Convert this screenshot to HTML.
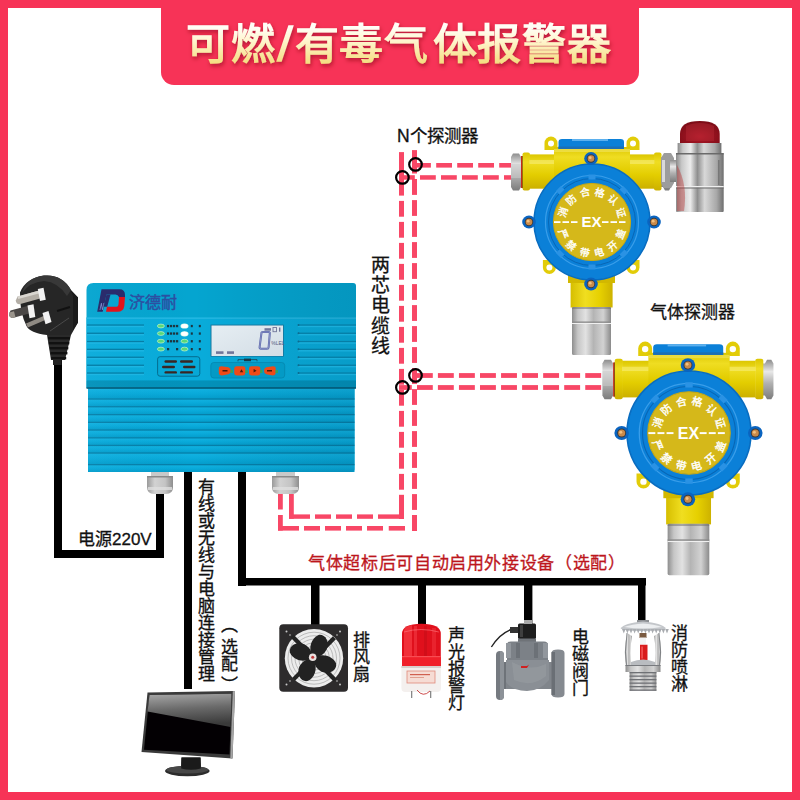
<!DOCTYPE html>
<html lang="zh-CN">
<head>
<meta charset="utf-8">
<style>
html,body{margin:0;padding:0;background:#fff;}
body{width:800px;height:800px;position:relative;overflow:hidden;font-family:"Liberation Sans",sans-serif;color:#111;}
.frame{position:absolute;left:0;top:0;width:784px;height:784px;border:8px solid #f73357;}
.tab{position:absolute;left:161px;top:0;width:478px;height:85px;background:#f73357;border-radius:0 0 13px 13px;}
svg{position:absolute;left:0;top:0;}
.t{position:absolute;font-size:17px;line-height:17px;white-space:nowrap;-webkit-text-stroke:0.3px currentColor;}
.v{writing-mode:vertical-rl;}
</style>
</head>
<body>
<div class="frame"></div>
<div class="tab"></div>
<svg width="800" height="800" viewBox="0 0 800 800">
<defs>
 <linearGradient id="siren2" x1="0" y1="0" x2="1" y2="0">
  <stop offset="0" stop-color="#8a8a8a"/><stop offset="0.12" stop-color="#c8c8c8"/><stop offset="0.3" stop-color="#ececec"/><stop offset="0.45" stop-color="#8f8f8f"/><stop offset="0.6" stop-color="#d8d8d8"/><stop offset="0.85" stop-color="#a8a8a8"/><stop offset="1" stop-color="#6e6e6e"/>
 </linearGradient>
 <linearGradient id="shadeH" x1="0" y1="0" x2="1" y2="0">
  <stop offset="0" stop-color="#ffffff" stop-opacity="0.03"/><stop offset="0.4" stop-color="#000000" stop-opacity="0"/><stop offset="1" stop-color="#002a45" stop-opacity="0.12"/>
 </linearGradient>
 <linearGradient id="gloss" x1="0" y1="0" x2="0.15" y2="1">
  <stop offset="0" stop-color="#a8a8a8"/><stop offset="0.5" stop-color="#6a6a6a"/><stop offset="1" stop-color="#3a3a3a"/>
 </linearGradient>
 <linearGradient id="rib" x1="0" y1="0" x2="0" y2="1">
  <stop offset="0" stop-color="#12b3e2"/><stop offset="0.5" stop-color="#09aada"/><stop offset="1" stop-color="#049ccb"/>
 </linearGradient>
 <linearGradient id="lcd" x1="0" y1="0" x2="1" y2="1">
  <stop offset="0" stop-color="#e6eef3"/><stop offset="1" stop-color="#d3dde5"/>
 </linearGradient>

 <linearGradient id="blueUp" x1="0" y1="0" x2="0" y2="1">
  <stop offset="0" stop-color="#16b3dd"/><stop offset="1" stop-color="#1aa9d3"/>
 </linearGradient>
 <linearGradient id="blueLow" x1="0" y1="0" x2="0" y2="1">
  <stop offset="0" stop-color="#22a9d3"/><stop offset="1" stop-color="#1f9fca"/>
 </linearGradient>
 <linearGradient id="metalH" x1="0" y1="0" x2="1" y2="0">
  <stop offset="0" stop-color="#8e8e8e"/><stop offset="0.15" stop-color="#c6c6c6"/><stop offset="0.35" stop-color="#e2e2e2"/><stop offset="0.55" stop-color="#b4b4b4"/><stop offset="0.8" stop-color="#d2d2d2"/><stop offset="1" stop-color="#8a8a8a"/>
 </linearGradient>
 <linearGradient id="metalV" x1="0" y1="0" x2="0" y2="1">
  <stop offset="0" stop-color="#8d8d8d"/><stop offset="0.3" stop-color="#e8e8e8"/><stop offset="0.6" stop-color="#b0b0b0"/><stop offset="1" stop-color="#7c7c7c"/>
 </linearGradient>
 <linearGradient id="glandG" x1="0" y1="0" x2="1" y2="0">
  <stop offset="0" stop-color="#9a9a9a"/><stop offset="0.3" stop-color="#d2d2d2"/><stop offset="0.7" stop-color="#c4c4c4"/><stop offset="1" stop-color="#8e8e8e"/>
 </linearGradient>
 <linearGradient id="yellowV" x1="0" y1="0" x2="0" y2="1">
  <stop offset="0" stop-color="#dcc600"/><stop offset="0.25" stop-color="#efdd22"/><stop offset="0.6" stop-color="#e3cd00"/><stop offset="1" stop-color="#ccb000"/>
 </linearGradient>
 <linearGradient id="yellowH" x1="0" y1="0" x2="1" y2="0">
  <stop offset="0" stop-color="#d6be00"/><stop offset="0.35" stop-color="#f0de20"/><stop offset="0.7" stop-color="#e6d000"/><stop offset="1" stop-color="#cdb200"/>
 </linearGradient>
 <radialGradient id="redDome" cx="0.5" cy="0.7" r="0.7">
  <stop offset="0" stop-color="#b01828"/><stop offset="1" stop-color="#7a0c16"/>
 </radialGradient>
 <linearGradient id="screen" x1="0" y1="0" x2="0.25" y2="1">
  <stop offset="0" stop-color="#9a9a9a"/><stop offset="0.33" stop-color="#505050"/><stop offset="0.36" stop-color="#0a0406"/><stop offset="1" stop-color="#000"/>
 </linearGradient>
</defs>
<!-- black wires -->
<g fill="#000">
 <rect x="54" y="358" width="8" height="200"/>
 <rect x="54" y="550" width="110" height="8"/>
 <rect x="156" y="490" width="8" height="68"/>
 <rect x="184" y="470" width="8" height="219"/>
 <rect x="238" y="470" width="8" height="116"/>
 <rect x="238" y="578" width="408" height="7.5"/>
 <rect x="311" y="580" width="8.5" height="46"/>
 <rect x="418" y="580" width="8" height="46"/>
 <rect x="524" y="580" width="8.4" height="46"/>
 <rect x="638" y="580" width="7.5" height="42"/>
</g>
<!-- red dashed cable -->
<!-- DASH --><g fill="#f84766">
<rect x="399.00" y="152.10" width="5.00" height="43.50"/>
<rect x="399.00" y="200.90" width="5.00" height="15.80"/>
<rect x="399.00" y="221.90" width="5.00" height="15.80"/>
<rect x="399.00" y="242.90" width="5.00" height="15.80"/>
<rect x="399.00" y="263.90" width="5.00" height="15.80"/>
<rect x="399.00" y="284.90" width="5.00" height="15.80"/>
<rect x="399.00" y="305.90" width="5.00" height="15.80"/>
<rect x="399.00" y="326.90" width="5.00" height="15.80"/>
<rect x="399.00" y="347.90" width="5.00" height="15.80"/>
<rect x="399.00" y="368.90" width="5.00" height="15.80"/>
<rect x="399.00" y="389.90" width="5.00" height="15.80"/>
<rect x="399.00" y="410.90" width="5.00" height="15.80"/>
<rect x="399.00" y="431.90" width="5.00" height="15.80"/>
<rect x="399.00" y="452.90" width="5.00" height="15.80"/>
<rect x="399.00" y="473.90" width="5.00" height="15.80"/>
<rect x="399.00" y="494.90" width="5.00" height="0.10"/>
<rect x="399.00" y="494.90" width="5.00" height="24.10"/>
<rect x="412.00" y="150.10" width="5.00" height="23.40"/>
<rect x="412.00" y="179.00" width="5.00" height="15.90"/>
<rect x="412.00" y="200.10" width="5.00" height="15.80"/>
<rect x="412.00" y="221.10" width="5.00" height="15.80"/>
<rect x="412.00" y="242.10" width="5.00" height="15.80"/>
<rect x="412.00" y="263.10" width="5.00" height="15.80"/>
<rect x="412.00" y="284.10" width="5.00" height="15.80"/>
<rect x="412.00" y="305.10" width="5.00" height="15.80"/>
<rect x="412.00" y="326.10" width="5.00" height="15.80"/>
<rect x="412.00" y="347.10" width="5.00" height="15.80"/>
<rect x="412.00" y="368.10" width="5.00" height="15.80"/>
<rect x="412.00" y="389.10" width="5.00" height="15.80"/>
<rect x="412.00" y="410.10" width="5.00" height="15.80"/>
<rect x="412.00" y="431.10" width="5.00" height="15.80"/>
<rect x="412.00" y="452.10" width="5.00" height="15.80"/>
<rect x="412.00" y="473.10" width="5.00" height="15.80"/>
<rect x="412.00" y="494.10" width="5.00" height="15.80"/>
<rect x="412.00" y="515.10" width="5.00" height="15.90"/>
<rect x="412.00" y="163.00" width="18.90" height="4.60"/>
<rect x="436.20" y="163.00" width="15.80" height="4.60"/>
<rect x="457.20" y="163.00" width="15.80" height="4.60"/>
<rect x="478.20" y="163.00" width="15.80" height="4.60"/>
<rect x="499.20" y="163.00" width="11.80" height="4.60"/>
<rect x="399.00" y="175.20" width="15.80" height="4.50"/>
<rect x="420.00" y="175.20" width="15.80" height="4.50"/>
<rect x="441.00" y="175.20" width="15.80" height="4.50"/>
<rect x="462.00" y="175.20" width="15.80" height="4.50"/>
<rect x="483.00" y="175.20" width="15.80" height="4.50"/>
<rect x="504.00" y="175.20" width="7.00" height="4.50"/>
<rect x="412.00" y="373.10" width="20.80" height="4.80"/>
<rect x="437.90" y="373.10" width="15.90" height="4.80"/>
<rect x="458.95" y="373.10" width="15.90" height="4.80"/>
<rect x="480.00" y="373.10" width="15.90" height="4.80"/>
<rect x="501.05" y="373.10" width="15.90" height="4.80"/>
<rect x="522.10" y="373.10" width="15.90" height="4.80"/>
<rect x="543.15" y="373.10" width="15.90" height="4.80"/>
<rect x="564.20" y="373.10" width="15.90" height="4.80"/>
<rect x="585.25" y="373.10" width="15.90" height="4.80"/>
<rect x="399.00" y="385.10" width="12.80" height="4.80"/>
<rect x="417.00" y="385.10" width="15.80" height="4.80"/>
<rect x="437.90" y="385.10" width="15.90" height="4.80"/>
<rect x="458.95" y="385.10" width="15.90" height="4.80"/>
<rect x="480.00" y="385.10" width="15.90" height="4.80"/>
<rect x="501.05" y="385.10" width="15.90" height="4.80"/>
<rect x="522.10" y="385.10" width="15.90" height="4.80"/>
<rect x="543.15" y="385.10" width="15.90" height="4.80"/>
<rect x="564.20" y="385.10" width="15.90" height="4.80"/>
<rect x="585.25" y="385.10" width="15.90" height="4.80"/>
<rect x="289.00" y="514.40" width="21.00" height="4.40"/>
<rect x="315.00" y="514.40" width="16.00" height="4.40"/>
<rect x="336.00" y="514.40" width="16.00" height="4.40"/>
<rect x="357.00" y="514.40" width="16.00" height="4.40"/>
<rect x="378.00" y="514.40" width="26.00" height="4.40"/>
<rect x="289.00" y="494.00" width="4.80" height="24.80"/>
<rect x="278.00" y="526.00" width="21.00" height="4.60"/>
<rect x="304.00" y="526.00" width="16.00" height="4.60"/>
<rect x="325.00" y="526.00" width="16.00" height="4.60"/>
<rect x="346.00" y="526.00" width="16.00" height="4.60"/>
<rect x="367.00" y="526.00" width="16.00" height="4.60"/>
<rect x="388.75" y="526.00" width="16.25" height="4.60"/>
<rect x="412.00" y="515.00" width="5.00" height="15.60"/>
<rect x="278.00" y="494.00" width="4.80" height="15.50"/>
<rect x="278.00" y="515.00" width="4.80" height="15.60"/>
</g>
<!-- /DASH -->
<g fill="none" stroke="#000" stroke-width="2.2">
 <circle cx="415.5" cy="164.4" r="6.3"/>
 <circle cx="402.4" cy="177.4" r="6.3"/>
 <circle cx="415.5" cy="375.4" r="6.3"/>
 <circle cx="402.4" cy="387.4" r="6.3"/>
</g>

<defs>
 <linearGradient id="titleG" gradientUnits="userSpaceOnUse" x1="0" y1="26" x2="0" y2="64">
  <stop offset="0" stop-color="#fffef6"/><stop offset="0.35" stop-color="#fff6d0"/><stop offset="1" stop-color="#f4dc7e"/>
 </linearGradient>
 <filter id="tshadow" x="-10%" y="-30%" width="120%" height="160%">
  <feDropShadow dx="1" dy="2.5" stdDeviation="2" flood-color="#7a0018" flood-opacity="0.55"/>
 </filter>
</defs>
<text font-family="Liberation Sans, sans-serif" font-size="44" font-weight="bold" fill="url(#titleG)" filter="url(#tshadow)" y="59" transform="translate(0 61) scale(1 0.955) translate(0 -61)">
<tspan x="186">可</tspan><tspan x="231">燃</tspan><tspan x="295">有</tspan><tspan x="339">毒</tspan><tspan x="384">气</tspan><tspan x="433">体</tspan><tspan x="477">报</tspan><tspan x="522">警</tspan><tspan x="567">器</tspan>
</text>
<polygon points="288.4,25.3 293.8,25.3 281.6,61.8 276.2,61.8" fill="url(#titleG)" filter="url(#tshadow)"/>

<!-- CTRL --><!-- controller -->
<g id="ctrl">
<rect x="151" y="470" width="18" height="6" fill="#c9c9c9"/>
<path d="M147 476 H173 V487 Q173 494 166 494 H154 Q147 494 147 487 Z" fill="url(#glandG)"/>
<rect x="147" y="476" width="26" height="1.5" fill="#8a8a8a"/>
<rect x="148" y="487" width="24" height="3" fill="#dedede" opacity="0.8"/>
<rect x="276" y="470" width="19" height="6" fill="#c9c9c9"/>
<path d="M272 476 H299 V487 Q299 494 292 494 H279 Q272 494 272 487 Z" fill="url(#glandG)"/>
<rect x="272" y="476" width="27" height="1.5" fill="#8a8a8a"/>
<rect x="273" y="487" width="25" height="3" fill="#dedede" opacity="0.8"/>
<path d="M88 388 H354.5 V469 Q354.5 472 351.5 472 H91 Q88 472 88 469 Z" fill="#08a9d8"/>
<rect x="88" y="388" width="266.5" height="11" fill="url(#rib)"/>
<rect x="88" y="399" width="266.5" height="7.699999999999989" fill="url(#rib)"/>
<rect x="88" y="398.4" width="266.5" height="1.3" fill="#0680aa"/>
<rect x="88" y="406.7" width="266.5" height="7.900000000000034" fill="url(#rib)"/>
<rect x="88" y="406.09999999999997" width="266.5" height="1.3" fill="#0680aa"/>
<rect x="88" y="414.6" width="266.5" height="7.699999999999989" fill="url(#rib)"/>
<rect x="88" y="414.0" width="266.5" height="1.3" fill="#0680aa"/>
<rect x="88" y="422.3" width="266.5" height="7.699999999999989" fill="url(#rib)"/>
<rect x="88" y="421.7" width="266.5" height="1.3" fill="#0680aa"/>
<rect x="88" y="430" width="266.5" height="7.800000000000011" fill="url(#rib)"/>
<rect x="88" y="429.4" width="266.5" height="1.3" fill="#0680aa"/>
<rect x="88" y="437.8" width="266.5" height="7.599999999999966" fill="url(#rib)"/>
<rect x="88" y="437.2" width="266.5" height="1.3" fill="#0680aa"/>
<rect x="88" y="445.4" width="266.5" height="7.600000000000023" fill="url(#rib)"/>
<rect x="88" y="444.79999999999995" width="266.5" height="1.3" fill="#0680aa"/>
<rect x="88" y="453" width="266.5" height="11.600000000000023" fill="url(#rib)"/>
<rect x="88" y="452.4" width="266.5" height="1.3" fill="#0680aa"/>
<rect x="88" y="464.6" width="266.5" height="7.399999999999977" fill="url(#rib)"/>
<rect x="88" y="464.0" width="266.5" height="1.3" fill="#0680aa"/>
<path d="M88 388 H354.5 V469 Q354.5 472 351.5 472 H91 Q88 472 88 469 Z" fill="url(#shadeH)"/>
<path d="M86.5 290 Q86.5 283 93.5 283 H353 Q356 283 356 286 V388 H86.5 Z" fill="#05a5d0"/>
<rect x="86.5" y="317.5" width="269.5" height="63" fill="#09acdb"/>
<rect x="86.5" y="317.5" width="269.5" height="1.3" fill="#30bde6" opacity="0.8"/>
<rect x="86.5" y="380.5" width="269.5" height="7" fill="#0392bb"/>
<rect x="86.5" y="387.2" width="269.5" height="1.6" fill="#035a78"/>
<path d="M86.5 290 Q86.5 283 93.5 283 H353 Q356 283 356 286 V388 H86.5 Z" fill="url(#shadeH)"/>
<rect x="87" y="324.4" width="57" height="1.3" fill="#067ea6"/>
<rect x="87" y="325.8" width="57" height="1.4" fill="#30c2ee" opacity="0.45"/>
<rect x="298" y="324.4" width="58" height="1.3" fill="#067ea6"/>
<rect x="298" y="325.8" width="58" height="1.4" fill="#30c2ee" opacity="0.45"/>
<circle cx="298.5" cy="325" r="1" fill="#0f6a8e"/>
<rect x="87" y="332.59999999999997" width="57" height="1.3" fill="#067ea6"/>
<rect x="87" y="334.0" width="57" height="1.4" fill="#30c2ee" opacity="0.45"/>
<rect x="298" y="332.59999999999997" width="58" height="1.3" fill="#067ea6"/>
<rect x="298" y="334.0" width="58" height="1.4" fill="#30c2ee" opacity="0.45"/>
<circle cx="298.5" cy="333.2" r="1" fill="#0f6a8e"/>
<rect x="87" y="340.9" width="57" height="1.3" fill="#067ea6"/>
<rect x="87" y="342.3" width="57" height="1.4" fill="#30c2ee" opacity="0.45"/>
<rect x="298" y="340.9" width="58" height="1.3" fill="#067ea6"/>
<rect x="298" y="342.3" width="58" height="1.4" fill="#30c2ee" opacity="0.45"/>
<circle cx="298.5" cy="341.5" r="1" fill="#0f6a8e"/>
<rect x="87" y="348.7" width="57" height="1.3" fill="#067ea6"/>
<rect x="87" y="350.1" width="57" height="1.4" fill="#30c2ee" opacity="0.45"/>
<rect x="298" y="348.7" width="58" height="1.3" fill="#067ea6"/>
<rect x="298" y="350.1" width="58" height="1.4" fill="#30c2ee" opacity="0.45"/>
<circle cx="298.5" cy="349.3" r="1" fill="#0f6a8e"/>
<rect x="87" y="356.59999999999997" width="57" height="1.3" fill="#067ea6"/>
<rect x="87" y="358.0" width="57" height="1.4" fill="#30c2ee" opacity="0.45"/>
<rect x="298" y="356.59999999999997" width="58" height="1.3" fill="#067ea6"/>
<rect x="298" y="358.0" width="58" height="1.4" fill="#30c2ee" opacity="0.45"/>
<circle cx="298.5" cy="357.2" r="1" fill="#0f6a8e"/>
<rect x="87" y="364.59999999999997" width="57" height="1.3" fill="#067ea6"/>
<rect x="87" y="366.0" width="57" height="1.4" fill="#30c2ee" opacity="0.45"/>
<rect x="298" y="364.59999999999997" width="58" height="1.3" fill="#067ea6"/>
<rect x="298" y="366.0" width="58" height="1.4" fill="#30c2ee" opacity="0.45"/>
<circle cx="298.5" cy="365.2" r="1" fill="#0f6a8e"/>
<rect x="87" y="372.4" width="57" height="1.3" fill="#067ea6"/>
<rect x="87" y="373.8" width="57" height="1.4" fill="#30c2ee" opacity="0.45"/>
<rect x="298" y="372.4" width="58" height="1.3" fill="#067ea6"/>
<rect x="298" y="373.8" width="58" height="1.4" fill="#30c2ee" opacity="0.45"/>
<circle cx="298.5" cy="373" r="1" fill="#0f6a8e"/>
<path d="M101.5 289.3 H119.5 Q125 289.3 125 295 V297 H119 Q118 294.5 115.5 294.5 H106.5 L102.7 311.8 H97.2 Z" fill="#2a2c6c"/>
<path d="M119 297 H125 L124.3 306 Q123.5 311.8 117.5 311.8 H106 L107 306.8 H116.5 Q118.2 306.8 118.5 304.5 Z" fill="#e3131b"/>
<path d="M106.5 294.5 H110.5 L107.2 306.8 H103.7 Z" fill="#2a2c6c"/>
<path d="M99.5 310 L101 303 H101.8 L102.6 308 L103.5 303 H104.2 L102.8 310 H102 L101.3 305.5 L100.4 310 Z" fill="#7a86c8"/>
<text x="128.5" y="307.6" font-family="Liberation Sans, sans-serif" font-size="16" fill="#2c4fa2" stroke="#2c4fa2" stroke-width="0.45">济德耐</text>
<ellipse cx="160.9" cy="326" rx="3.5" ry="1.9" fill="#58d87a" stroke="#c5f3c8" stroke-width="0.7"/>
<ellipse cx="160.9" cy="333.5" rx="3.5" ry="1.9" fill="#58d87a" stroke="#c5f3c8" stroke-width="0.7"/>
<ellipse cx="160.9" cy="341.2" rx="3.5" ry="1.9" fill="#58d87a" stroke="#c5f3c8" stroke-width="0.7"/>
<ellipse cx="160.9" cy="349.1" rx="3.5" ry="1.9" fill="#58d87a" stroke="#c5f3c8" stroke-width="0.7"/>
<ellipse cx="184.5" cy="341.2" rx="3.5" ry="1.9" fill="#58d87a" stroke="#c5f3c8" stroke-width="0.7"/>
<ellipse cx="184.5" cy="349.1" rx="3.5" ry="1.9" fill="#58d87a" stroke="#c5f3c8" stroke-width="0.7"/>
<ellipse cx="184.5" cy="326" rx="4" ry="2.6" fill="#dffbe8"/>
<ellipse cx="184.5" cy="326" rx="3.2" ry="2" fill="#ffffff"/>
<ellipse cx="184.5" cy="333.8" rx="4" ry="2.6" fill="#dffbe8"/>
<ellipse cx="184.5" cy="333.8" rx="3.2" ry="2" fill="#ffffff"/>
<rect x="167" y="324.9" width="2.2" height="2.3" fill="#1d3540"/>
<rect x="170" y="324.9" width="2.2" height="2.3" fill="#1d3540"/>
<rect x="173" y="324.9" width="2.2" height="2.3" fill="#1d3540"/>
<rect x="176" y="324.9" width="2.2" height="2.3" fill="#1d3540"/>
<rect x="167" y="332.4" width="2.2" height="2.3" fill="#1d3540"/>
<rect x="170" y="332.4" width="2.2" height="2.3" fill="#1d3540"/>
<rect x="173" y="332.4" width="2.2" height="2.3" fill="#1d3540"/>
<rect x="176" y="332.4" width="2.2" height="2.3" fill="#1d3540"/>
<rect x="167" y="340.09999999999997" width="2.2" height="2.3" fill="#1d3540"/>
<rect x="170" y="340.09999999999997" width="2.2" height="2.3" fill="#1d3540"/>
<rect x="173" y="340.09999999999997" width="2.2" height="2.3" fill="#1d3540"/>
<rect x="176" y="340.09999999999997" width="2.2" height="2.3" fill="#1d3540"/>
<rect x="167" y="348" width="2.2" height="2.3" fill="#1d3540"/><rect x="176" y="348" width="2.2" height="2.3" fill="#1d3540"/>
<rect x="190.8" y="324.9" width="2" height="2.3" fill="#1d3540"/><rect x="198.8" y="324.9" width="2" height="2.3" fill="#1d3540"/>
<rect x="190.8" y="332.4" width="2" height="2.3" fill="#1d3540"/><rect x="198.8" y="332.4" width="2" height="2.3" fill="#1d3540"/>
<rect x="190.8" y="340.09999999999997" width="2" height="2.3" fill="#1d3540"/><rect x="198.8" y="340.09999999999997" width="2" height="2.3" fill="#1d3540"/>
<rect x="190.8" y="348.0" width="2" height="2.3" fill="#1d3540"/><rect x="198.8" y="348.0" width="2" height="2.3" fill="#1d3540"/>
<rect x="157.6" y="356.7" width="42.2" height="19.5" rx="2.5" fill="#07a8d6" stroke="#046688" stroke-width="0.9"/>
<rect x="164.5" y="360.3" width="12.5" height="2.4" rx="1.2" fill="#3b2622"/>
<rect x="180" y="360.3" width="13" height="2.4" rx="1.2" fill="#3b2622"/>
<rect x="162" y="365.8" width="13" height="2.4" rx="1.2" fill="#3b2622"/>
<rect x="183" y="365.8" width="12.5" height="2.4" rx="1.2" fill="#3b2622"/>
<rect x="164.5" y="371.2" width="12.5" height="2.4" rx="1.2" fill="#3b2622"/>
<rect x="180" y="371.2" width="13" height="2.4" rx="1.2" fill="#3b2622"/>
<rect x="210.6" y="324.6" width="73.2" height="32" fill="#17739a"/>
<rect x="211.5" y="325.5" width="71.5" height="30.5" fill="url(#lcd)"/>
<path d="M261.5 332.6 Q262 332 263 332 H268.5 Q270 332 269.8 333.5 L268.6 347.5 Q268.5 348.8 267 348.8 H261 Q259.5 348.8 259.6 347.3 Z" fill="none" stroke="#5762a8" stroke-width="2"/>
<path d="M261.5 332.6 Q262 332 263 332 H268.5 Q270 332 269.8 333.5 L268.6 347.5 Q268.5 348.8 267 348.8 H261 Q259.5 348.8 259.6 347.3 Z" fill="none" stroke="#aab4d8" stroke-width="0.6"/>
<text x="271.3" y="344.5" font-family="Liberation Sans, sans-serif" font-size="5" fill="#555a80">%LEL</text>
<g fill="#70769a"><rect x="264.5" y="328.2" width="6.5" height="2.5"/><rect x="273" y="327.5" width="3.5" height="4.2" fill="none" stroke="#70769a" stroke-width="0.9"/><rect x="279" y="327.5" width="1.4" height="4.2"/><rect x="216" y="351.3" width="7.5" height="2.6"/><rect x="227" y="351.3" width="7" height="2.6"/></g>
<path d="M238 361.3 V359.6 H257 V361.3" fill="none" stroke="#1a3a48" stroke-width="0.7"/>
<rect x="244" y="358.6" width="7" height="2.6" fill="#1a3a48"/>
<rect x="210.8" y="362.5" width="73.9" height="15.5" rx="3" fill="#049ac5" stroke="#0486ae" stroke-width="0.8"/>
<g fill="#ef4a18">
<path d="M218.8 368.5 Q218.8 366.2 221.5 366.2 L228.5 367.3 Q230.8 368 230.8 370.7 Q230.8 373.5 228.5 374.2 L222 375.4 Q218.8 375.4 218.8 372.5 Z"/>
<rect x="234.2" y="366.2" width="11.2" height="9.2" rx="2.4"/>
<rect x="249" y="366.2" width="11.3" height="9.2" rx="2.4"/>
<path d="M264 370.7 Q264 368 266.3 367.3 L273 366.2 Q275.7 366.2 275.7 368.5 V372.5 Q275.7 375.4 272.5 375.4 L266.3 374.2 Q264 373.5 264 370.7 Z"/>
</g>
<g fill="#4a1a0c"><path d="M239.8 372.3 L241.5 369.2 L243.2 372.3 Z"/><path d="M253.6 369 L256.6 370.7 L253.6 372.4 Z"/><rect x="222.5" y="370" width="5" height="1.5"/><rect x="267" y="370" width="5" height="1.5"/></g>
<g fill="#3aa84a" opacity="0.8"><rect x="230.5" y="370" width="2.5" height="3"/><rect x="245.2" y="370" width="2.5" height="3"/><rect x="260" y="370" width="2.5" height="3"/><rect x="275.5" y="370" width="2.5" height="3"/></g>
</g>
<!-- /CTRL -->

<!-- plug -->
<g id="plug">
 <!-- head -->
 <path d="M44 275.6 Q62 274 71 290 L78 297.5 V322.5 L71 335 H47 Q30 333 26.5 326 Q19.5 312 20 292.5 Q26 278 44 275.6 Z" fill="#262626"/>
 <path d="M44 275.6 Q62 274 71 290 L67 296 Q58 282 44 281 Q30 282 22 293 Q26 278 44 275.6 Z" fill="#383838"/>
 <path d="M70.5 290 L78 297.5 V322.5 L73 330 V296 Z" fill="#1b1b1b"/>
 <path d="M57 311 L70 307" stroke="#111" stroke-width="2"/>
 <path d="M50 331 L69 318" stroke="#4a4a4a" stroke-width="1"/>
 <!-- prongs -->
 <path d="M17.5 296.5 L40 290.3 L42 298 L19.5 304.2 Q16 304 15.8 300.5 Z" fill="#b3aea6"/>
 <path d="M17.5 296.5 L40 290.3 L40.8 293 L18.2 299 Z" fill="#d9d6d0"/>
 <path d="M10.5 310.5 L31 305 L33 312.5 L12.5 318 Q9 317.5 9 314 Z" fill="#4a4746"/>
 <path d="M9.2 312.5 L14 311.2 L15.5 317.3 L12.5 318 Q9 317.5 9 314 Z" fill="#9a948c"/>
 <path d="M26 323.5 L46.5 314.8 L48.2 318.8 L27.8 327.5 Z" fill="#8f8a83"/>
 <!-- insulators -->
 <path d="M37.8 289 L43.5 287.7 L45.8 299.8 L40 301 Z" fill="#f2f2f2"/>
 <path d="M27.5 305.5 L33.5 304.2 L35.3 317 L29.5 318.3 Z" fill="#f2f2f2"/>
 <path d="M42.5 313 L48.5 311 L51.5 322 L45.5 324.3 Z" fill="#f2f2f2"/>
 <!-- strain relief -->
 <path d="M47 335 H71 L65 360 H51 Z" fill="#2a2a2a"/>
 <g fill="#111"><rect x="48" y="337" width="22" height="2.4"/><rect x="48.8" y="342" width="20.5" height="2.4"/><rect x="49.8" y="347" width="18.5" height="2.4"/><rect x="50.6" y="352" width="16.8" height="2.4"/><rect x="51.2" y="357" width="15" height="2.4"/></g>
 <rect x="53" y="359" width="8.6" height="6" fill="#222"/>
</g>
<!-- monitor -->
<g id="monitor">
 <path d="M147.5 692.5 L235 691 L232.5 758.5 L141.5 752 Z" fill="#3a3a3a"/>
 <path d="M232.8 691.3 L235 691 L232.5 758.5 L230.3 758 Z" fill="#a5a5a5"/>
 <path d="M149.5 695 L231.5 693.8 L229.5 754.5 L144 749.8 Z" fill="#030003"/>
 <path d="M149.5 695 L231.5 693.8 L230.6 727 L147.5 711.5 Z" fill="url(#gloss)"/>
 <path d="M181.5 757.5 H200.5 L201 770 H181 Z" fill="#1d1d1d"/>
 <ellipse cx="187.3" cy="771" rx="22.3" ry="5.2" fill="#2c2c2c"/>
 <ellipse cx="187.3" cy="769.8" rx="21" ry="3.8" fill="#474747"/>
 <path d="M181.5 757.5 H200.5 L200.8 768.5 Q191 771 181.2 768.5 Z" fill="#1a1a1a"/>
</g>
<!-- DET --><g id="det1" transform="translate(592 222)">
<path d="M-81 -65 L-79 -68.5 H-73 L-71 -65 V-35 L-73 -31.5 H-79 L-81 -35 Z" fill="url(#metalV)"/>
<rect x="-81" y="-58" width="10" height="14" fill="#c8c8c8" opacity="0.6"/>
<rect x="-71" y="-66" width="2" height="32" fill="#c42a1a"/><rect x="-69.8" y="-66" width="0.8" height="32" fill="#301010"/>
<path d="M69 -65 H71 L73 -68.5 H77 L79 -65 V-35 L77 -31.5 H73 L71 -35 H69 Z" fill="url(#metalV)"/>
<rect x="-62.6" y="-67.6" width="125" height="34.3" fill="url(#yellowV)"/>
<rect x="-69.5" y="-69.5" width="7.5" height="38" rx="2" fill="url(#yellowV)"/>
<rect x="62" y="-69.5" width="7.5" height="38" rx="2" fill="url(#yellowV)"/>
<rect x="-62.6" y="-62" width="125" height="4" fill="#f8ee80" opacity="0.55"/>
<path d="M-47.5 -72 V-79 A6.5 6.5 0 0 1 -34.5 -79 V-72 Z" fill="#e2cc08"/>
<circle cx="-41" cy="-78.5" r="3" fill="#fff"/>
<path d="M34.5 -72 V-79 A6.5 6.5 0 0 1 47.5 -79 V-72 Z" fill="#e2cc08"/>
<circle cx="41" cy="-78.5" r="3" fill="#fff"/>
<rect x="-38" y="-75" width="76" height="40" fill="url(#yellowV)"/>
<path d="M-33.5 -73 V-80 Q-33.5 -83 -30 -83 H28.5 Q32 -83 32 -80 V-73 Z" fill="#0b80d8"/>
<rect x="-33.5" y="-75.5" width="65.5" height="2.5" fill="#1c6fb5"/>
<rect x="-20" y="-83" width="36" height="2" fill="#5bb0ee"/>
<rect x="-38" y="-73" width="76" height="3" fill="#f2e660" opacity="0.6"/>
<path d="M-49.1 38 V45.5 A6.5 6.5 0 0 0 -36.1 45.5 V38 Z" fill="#e2cc08"/>
<circle cx="-42.6" cy="45.5" r="3" fill="#fff"/>
<path d="M34.5 38 V45.5 A6.5 6.5 0 0 0 47.5 45.5 V38 Z" fill="#e2cc08"/>
<circle cx="41" cy="45.5" r="3" fill="#fff"/>
<rect x="-21.4" y="56" width="42" height="29.5" fill="url(#yellowH)"/>
<rect x="-24" y="52" width="47" height="9" fill="#d2b800"/>
<rect x="-20" y="85" width="39" height="48" rx="1.5" fill="url(#metalH)"/>
<rect x="-20" y="99.5" width="39" height="1.3" fill="#8a8a8a"/>
<rect x="-20" y="101" width="39" height="1" fill="#f0f0f0"/>
<rect x="-20" y="85" width="39" height="2" fill="#6a6a6a" opacity="0.5"/>
<circle cx="0" cy="0" r="58" fill="#0b80d8"/>
<circle cx="0" cy="0" r="58" fill="none" stroke="#086cc0" stroke-width="1.5"/>
<circle cx="0" cy="0" r="46.5" fill="none" stroke="#3a9eea" stroke-width="1.2"/>
<circle cx="0" cy="0" r="43.5" fill="none" stroke="#0866b5" stroke-width="1"/>
<rect x="-3.5" y="-2.5" width="7" height="5" fill="#2a92e4" transform="translate(31.82 31.82) rotate(135)"/>
<rect x="-3.5" y="-2.5" width="7" height="5" fill="#2a92e4" transform="translate(-31.82 31.82) rotate(225)"/>
<rect x="-3.5" y="-2.5" width="7" height="5" fill="#2a92e4" transform="translate(-31.82 -31.82) rotate(315)"/>
<rect x="-3.5" y="-2.5" width="7" height="5" fill="#2a92e4" transform="translate(31.82 -31.82) rotate(405)"/>
<rect x="-3.5" y="-2.5" width="7" height="5" fill="#2a92e4" transform="translate(0.00 -45.00) rotate(0)"/>
<rect x="-3.5" y="-2.5" width="7" height="5" fill="#2a92e4" transform="translate(0.00 45.00) rotate(180)"/>
<circle cx="0" cy="0" r="38.6" fill="#d5b81a"/>
<circle cx="0" cy="0" r="38.6" fill="none" stroke="#c9a810" stroke-width="1"/>
<text x="0" y="0" transform="translate(-29.01 -9.43) rotate(-72)" font-size="10" fill="#fff" stroke="#fff" stroke-width="0.35" text-anchor="middle" dominant-baseline="central" font-family="Liberation Sans, sans-serif">消</text>
<text x="0" y="0" transform="translate(-20.80 -22.31) rotate(-43)" font-size="10" fill="#fff" stroke="#fff" stroke-width="0.35" text-anchor="middle" dominant-baseline="central" font-family="Liberation Sans, sans-serif">防</text>
<text x="0" y="0" transform="translate(-7.38 -29.59) rotate(-14)" font-size="10" fill="#fff" stroke="#fff" stroke-width="0.35" text-anchor="middle" dominant-baseline="central" font-family="Liberation Sans, sans-serif">合</text>
<text x="0" y="0" transform="translate(7.89 -29.46) rotate(15)" font-size="10" fill="#fff" stroke="#fff" stroke-width="0.35" text-anchor="middle" dominant-baseline="central" font-family="Liberation Sans, sans-serif">格</text>
<text x="0" y="0" transform="translate(21.19 -21.94) rotate(44)" font-size="10" fill="#fff" stroke="#fff" stroke-width="0.35" text-anchor="middle" dominant-baseline="central" font-family="Liberation Sans, sans-serif">认</text>
<text x="0" y="0" transform="translate(29.17 -8.92) rotate(73)" font-size="10" fill="#fff" stroke="#fff" stroke-width="0.35" text-anchor="middle" dominant-baseline="central" font-family="Liberation Sans, sans-serif">证</text>
<text x="0" y="0" transform="translate(-29.12 12.00) rotate(67.6)" font-size="10" fill="#fff" stroke="#fff" stroke-width="0.35" text-anchor="middle" dominant-baseline="central" font-family="Liberation Sans, sans-serif">严</text>
<text x="0" y="0" transform="translate(-20.50 23.92) rotate(40.599999999999994)" font-size="10" fill="#fff" stroke="#fff" stroke-width="0.35" text-anchor="middle" dominant-baseline="central" font-family="Liberation Sans, sans-serif">禁</text>
<text x="0" y="0" transform="translate(-7.41 30.62) rotate(13.599999999999994)" font-size="10" fill="#fff" stroke="#fff" stroke-width="0.35" text-anchor="middle" dominant-baseline="central" font-family="Liberation Sans, sans-serif">带</text>
<text x="0" y="0" transform="translate(7.30 30.64) rotate(-13.400000000000006)" font-size="10" fill="#fff" stroke="#fff" stroke-width="0.35" text-anchor="middle" dominant-baseline="central" font-family="Liberation Sans, sans-serif">电</text>
<text x="0" y="0" transform="translate(20.42 23.99) rotate(-40.400000000000006)" font-size="10" fill="#fff" stroke="#fff" stroke-width="0.35" text-anchor="middle" dominant-baseline="central" font-family="Liberation Sans, sans-serif">开</text>
<text x="0" y="0" transform="translate(29.08 12.11) rotate(-67.4)" font-size="10" fill="#fff" stroke="#fff" stroke-width="0.35" text-anchor="middle" dominant-baseline="central" font-family="Liberation Sans, sans-serif">盖</text>
<text x="-0.5" y="5.2" font-size="15" font-weight="bold" fill="#fff" text-anchor="middle" font-family="Liberation Sans, sans-serif">EX</text>
<rect x="-38" y="-0.8" width="6.5" height="1.8" fill="#fff"/>
<rect x="-29.5" y="-0.8" width="6.5" height="1.8" fill="#fff"/>
<rect x="-21" y="-0.8" width="6.5" height="1.8" fill="#fff"/>
<rect x="10" y="-0.8" width="6.5" height="1.8" fill="#fff"/>
<rect x="18.5" y="-0.8" width="6.5" height="1.8" fill="#fff"/>
<rect x="27" y="-0.8" width="6.5" height="1.8" fill="#fff"/>
<ellipse cx="-63" cy="0" rx="6.8" ry="6.5" fill="#0a64c0"/>
<circle cx="-63" cy="0" r="4.2" fill="#3a3a3a"/>
<circle cx="-63" cy="0" r="3.3" fill="#c98a4a"/>
<circle cx="-63.8" cy="-0.8" r="1.4" fill="#f0c080"/>
<ellipse cx="62" cy="0" rx="6.8" ry="6.5" fill="#0a64c0"/>
<circle cx="62" cy="0" r="4.2" fill="#3a3a3a"/>
<circle cx="62" cy="0" r="3.3" fill="#c98a4a"/>
<circle cx="61.2" cy="-0.8" r="1.4" fill="#f0c080"/>
<ellipse cx="-1" cy="-63.5" rx="6.8" ry="6.5" fill="#0a64c0"/>
<circle cx="-1" cy="-63.5" r="4.2" fill="#3a3a3a"/>
<circle cx="-1" cy="-63.5" r="3.3" fill="#c98a4a"/>
<circle cx="-1.8" cy="-64.3" r="1.4" fill="#f0c080"/>
<ellipse cx="-1" cy="62" rx="6.8" ry="6.5" fill="#0a64c0"/>
<circle cx="-1" cy="62" r="4.2" fill="#3a3a3a"/>
<circle cx="-1" cy="62" r="3.3" fill="#c98a4a"/>
<circle cx="-1.8" cy="61.2" r="1.4" fill="#f0c080"/>
</g>
<g id="det2" transform="translate(689 433) scale(1.069)">
<path d="M-81 -65 L-79 -68.5 H-73 L-71 -65 V-35 L-73 -31.5 H-79 L-81 -35 Z" fill="url(#metalV)"/>
<rect x="-81" y="-58" width="10" height="14" fill="#c8c8c8" opacity="0.6"/>
<rect x="-71" y="-66" width="2" height="32" fill="#c42a1a"/><rect x="-69.8" y="-66" width="0.8" height="32" fill="#301010"/>
<path d="M69 -65 H71 L73 -68.5 H77 L79 -65 V-35 L77 -31.5 H73 L71 -35 H69 Z" fill="url(#metalV)"/>
<rect x="-62.6" y="-67.6" width="125" height="34.3" fill="url(#yellowV)"/>
<rect x="-69.5" y="-69.5" width="7.5" height="38" rx="2" fill="url(#yellowV)"/>
<rect x="62" y="-69.5" width="7.5" height="38" rx="2" fill="url(#yellowV)"/>
<rect x="-62.6" y="-62" width="125" height="4" fill="#f8ee80" opacity="0.55"/>
<path d="M-47.5 -72 V-79 A6.5 6.5 0 0 1 -34.5 -79 V-72 Z" fill="#e2cc08"/>
<circle cx="-41" cy="-78.5" r="3" fill="#fff"/>
<path d="M34.5 -72 V-79 A6.5 6.5 0 0 1 47.5 -79 V-72 Z" fill="#e2cc08"/>
<circle cx="41" cy="-78.5" r="3" fill="#fff"/>
<rect x="-38" y="-75" width="76" height="40" fill="url(#yellowV)"/>
<path d="M-33.5 -73 V-80 Q-33.5 -83 -30 -83 H28.5 Q32 -83 32 -80 V-73 Z" fill="#0b80d8"/>
<rect x="-33.5" y="-75.5" width="65.5" height="2.5" fill="#1c6fb5"/>
<rect x="-20" y="-83" width="36" height="2" fill="#5bb0ee"/>
<rect x="-38" y="-73" width="76" height="3" fill="#f2e660" opacity="0.6"/>
<path d="M-49.1 38 V45.5 A6.5 6.5 0 0 0 -36.1 45.5 V38 Z" fill="#e2cc08"/>
<circle cx="-42.6" cy="45.5" r="3" fill="#fff"/>
<path d="M34.5 38 V45.5 A6.5 6.5 0 0 0 47.5 45.5 V38 Z" fill="#e2cc08"/>
<circle cx="41" cy="45.5" r="3" fill="#fff"/>
<rect x="-21.4" y="56" width="42" height="29.5" fill="url(#yellowH)"/>
<rect x="-24" y="52" width="47" height="9" fill="#d2b800"/>
<rect x="-20" y="85" width="39" height="48" rx="1.5" fill="url(#metalH)"/>
<rect x="-20" y="99.5" width="39" height="1.3" fill="#8a8a8a"/>
<rect x="-20" y="101" width="39" height="1" fill="#f0f0f0"/>
<rect x="-20" y="85" width="39" height="2" fill="#6a6a6a" opacity="0.5"/>
<circle cx="0" cy="0" r="58" fill="#0b80d8"/>
<circle cx="0" cy="0" r="58" fill="none" stroke="#086cc0" stroke-width="1.5"/>
<circle cx="0" cy="0" r="46.5" fill="none" stroke="#3a9eea" stroke-width="1.2"/>
<circle cx="0" cy="0" r="43.5" fill="none" stroke="#0866b5" stroke-width="1"/>
<rect x="-3.5" y="-2.5" width="7" height="5" fill="#2a92e4" transform="translate(31.82 31.82) rotate(135)"/>
<rect x="-3.5" y="-2.5" width="7" height="5" fill="#2a92e4" transform="translate(-31.82 31.82) rotate(225)"/>
<rect x="-3.5" y="-2.5" width="7" height="5" fill="#2a92e4" transform="translate(-31.82 -31.82) rotate(315)"/>
<rect x="-3.5" y="-2.5" width="7" height="5" fill="#2a92e4" transform="translate(31.82 -31.82) rotate(405)"/>
<rect x="-3.5" y="-2.5" width="7" height="5" fill="#2a92e4" transform="translate(0.00 -45.00) rotate(0)"/>
<rect x="-3.5" y="-2.5" width="7" height="5" fill="#2a92e4" transform="translate(0.00 45.00) rotate(180)"/>
<circle cx="0" cy="0" r="38.6" fill="#d5b81a"/>
<circle cx="0" cy="0" r="38.6" fill="none" stroke="#c9a810" stroke-width="1"/>
<text x="0" y="0" transform="translate(-29.01 -9.43) rotate(-72)" font-size="10" fill="#fff" stroke="#fff" stroke-width="0.35" text-anchor="middle" dominant-baseline="central" font-family="Liberation Sans, sans-serif">消</text>
<text x="0" y="0" transform="translate(-20.80 -22.31) rotate(-43)" font-size="10" fill="#fff" stroke="#fff" stroke-width="0.35" text-anchor="middle" dominant-baseline="central" font-family="Liberation Sans, sans-serif">防</text>
<text x="0" y="0" transform="translate(-7.38 -29.59) rotate(-14)" font-size="10" fill="#fff" stroke="#fff" stroke-width="0.35" text-anchor="middle" dominant-baseline="central" font-family="Liberation Sans, sans-serif">合</text>
<text x="0" y="0" transform="translate(7.89 -29.46) rotate(15)" font-size="10" fill="#fff" stroke="#fff" stroke-width="0.35" text-anchor="middle" dominant-baseline="central" font-family="Liberation Sans, sans-serif">格</text>
<text x="0" y="0" transform="translate(21.19 -21.94) rotate(44)" font-size="10" fill="#fff" stroke="#fff" stroke-width="0.35" text-anchor="middle" dominant-baseline="central" font-family="Liberation Sans, sans-serif">认</text>
<text x="0" y="0" transform="translate(29.17 -8.92) rotate(73)" font-size="10" fill="#fff" stroke="#fff" stroke-width="0.35" text-anchor="middle" dominant-baseline="central" font-family="Liberation Sans, sans-serif">证</text>
<text x="0" y="0" transform="translate(-29.12 12.00) rotate(67.6)" font-size="10" fill="#fff" stroke="#fff" stroke-width="0.35" text-anchor="middle" dominant-baseline="central" font-family="Liberation Sans, sans-serif">严</text>
<text x="0" y="0" transform="translate(-20.50 23.92) rotate(40.599999999999994)" font-size="10" fill="#fff" stroke="#fff" stroke-width="0.35" text-anchor="middle" dominant-baseline="central" font-family="Liberation Sans, sans-serif">禁</text>
<text x="0" y="0" transform="translate(-7.41 30.62) rotate(13.599999999999994)" font-size="10" fill="#fff" stroke="#fff" stroke-width="0.35" text-anchor="middle" dominant-baseline="central" font-family="Liberation Sans, sans-serif">带</text>
<text x="0" y="0" transform="translate(7.30 30.64) rotate(-13.400000000000006)" font-size="10" fill="#fff" stroke="#fff" stroke-width="0.35" text-anchor="middle" dominant-baseline="central" font-family="Liberation Sans, sans-serif">电</text>
<text x="0" y="0" transform="translate(20.42 23.99) rotate(-40.400000000000006)" font-size="10" fill="#fff" stroke="#fff" stroke-width="0.35" text-anchor="middle" dominant-baseline="central" font-family="Liberation Sans, sans-serif">开</text>
<text x="0" y="0" transform="translate(29.08 12.11) rotate(-67.4)" font-size="10" fill="#fff" stroke="#fff" stroke-width="0.35" text-anchor="middle" dominant-baseline="central" font-family="Liberation Sans, sans-serif">盖</text>
<text x="-0.5" y="5.2" font-size="15" font-weight="bold" fill="#fff" text-anchor="middle" font-family="Liberation Sans, sans-serif">EX</text>
<rect x="-38" y="-0.8" width="6.5" height="1.8" fill="#fff"/>
<rect x="-29.5" y="-0.8" width="6.5" height="1.8" fill="#fff"/>
<rect x="-21" y="-0.8" width="6.5" height="1.8" fill="#fff"/>
<rect x="10" y="-0.8" width="6.5" height="1.8" fill="#fff"/>
<rect x="18.5" y="-0.8" width="6.5" height="1.8" fill="#fff"/>
<rect x="27" y="-0.8" width="6.5" height="1.8" fill="#fff"/>
<ellipse cx="-63" cy="0" rx="6.8" ry="6.5" fill="#0a64c0"/>
<circle cx="-63" cy="0" r="4.2" fill="#3a3a3a"/>
<circle cx="-63" cy="0" r="3.3" fill="#c98a4a"/>
<circle cx="-63.8" cy="-0.8" r="1.4" fill="#f0c080"/>
<ellipse cx="62" cy="0" rx="6.8" ry="6.5" fill="#0a64c0"/>
<circle cx="62" cy="0" r="4.2" fill="#3a3a3a"/>
<circle cx="62" cy="0" r="3.3" fill="#c98a4a"/>
<circle cx="61.2" cy="-0.8" r="1.4" fill="#f0c080"/>
<ellipse cx="-1" cy="-63.5" rx="6.8" ry="6.5" fill="#0a64c0"/>
<circle cx="-1" cy="-63.5" r="4.2" fill="#3a3a3a"/>
<circle cx="-1" cy="-63.5" r="3.3" fill="#c98a4a"/>
<circle cx="-1.8" cy="-64.3" r="1.4" fill="#f0c080"/>
<ellipse cx="-1" cy="62" rx="6.8" ry="6.5" fill="#0a64c0"/>
<circle cx="-1" cy="62" r="4.2" fill="#3a3a3a"/>
<circle cx="-1" cy="62" r="3.3" fill="#c98a4a"/>
<circle cx="-1.8" cy="61.2" r="1.4" fill="#f0c080"/>
</g>

<!-- siren -->
<g id="siren">
 <path d="M661 158 L664 153 H671 L674 158 V183 L671 188 H664 L661 183 Z" fill="#9c9c9c"/>
 <rect x="662" y="160" width="3" height="22" fill="#e8e8e8" opacity="0.8"/>
 <rect x="670" y="160" width="7" height="22" fill="url(#metalV)"/>
 <path d="M680 143 V134 Q680 121 699.8 121 Q719.7 121 719.7 134 V143 Z" fill="url(#redDome)"/>
 <path d="M686 126 Q692 123 700 123 Q708 123 714 126 V141 H686 Z" fill="#c0303c" opacity="0.35"/>
 <rect x="677.6" y="143" width="43.8" height="10.4" fill="url(#siren2)"/>
 <rect x="676" y="153" width="47.7" height="59" rx="1" fill="url(#siren2)"/>
 <rect x="676" y="186" width="47.7" height="1.5" fill="#f0f0f0"/>
 <rect x="676" y="187.5" width="47.7" height="1" fill="#6a6a6a"/>
 <path d="M677 165 Q688 185 684 211 H677 Z" fill="#b83a3a" opacity="0.45"/>
 <rect x="676" y="153" width="47.7" height="1.5" fill="#6a6a6a"/>
 <rect x="718" y="160" width="1.5" height="25" fill="#555" opacity="0.5"/>
</g>
<!-- /DET -->

<!-- devices -->
<g id="fan">
 <rect x="279.3" y="624.2" width="68.7" height="67.5" rx="4" fill="#2d2b2c"/>
 <circle cx="314" cy="658.2" r="29.2" fill="#ececec"/>
 <g fill="none" stroke="#a5a5a5" stroke-width="0.7">
  <circle cx="314" cy="658.2" r="26"/><circle cx="314" cy="658.2" r="22.5"/><circle cx="314" cy="658.2" r="19"/><circle cx="314" cy="658.2" r="15.5"/><circle cx="314" cy="658.2" r="12"/>
 </g>
 <g stroke="#232323" stroke-width="4.2">
  <line x1="292" y1="636" x2="335.3" y2="680.3"/><line x1="334.4" y1="637.8" x2="293.6" y2="679.4"/>
 </g>
 <g fill="#222"><path d="M2 -2 C6 -9 17 -11 23 -6 C27 -1 23 7 14 8 C8 8 4 5 2 2 Z" transform="translate(313 658) rotate(-62)"/><path d="M2 -2 C6 -9 17 -11 23 -6 C27 -1 23 7 14 8 C8 8 4 5 2 2 Z" transform="translate(313 658) rotate(28)"/><path d="M2 -2 C6 -9 17 -11 23 -6 C27 -1 23 7 14 8 C8 8 4 5 2 2 Z" transform="translate(313 658) rotate(118)"/><path d="M2 -2 C6 -9 17 -11 23 -6 C27 -1 23 7 14 8 C8 8 4 5 2 2 Z" transform="translate(313 658) rotate(208)"/></g>
 <circle cx="312.7" cy="657.3" r="3.8" fill="#e8e2e0"/>
 <circle cx="312.7" cy="657.3" r="1.5" fill="#c03a3a"/>
 <g fill="#c8c8c8"><circle cx="286.5" cy="631.5" r="1"/><circle cx="340" cy="631.5" r="1"/><circle cx="286.5" cy="684.5" r="1"/><circle cx="340" cy="684.5" r="1"/><circle cx="290" cy="635" r="0.8"/><circle cx="337" cy="635" r="0.8"/><circle cx="290" cy="681" r="0.8"/><circle cx="337" cy="681" r="0.8"/></g>
</g>
<g id="lamp">
 <path d="M402 666 V634 Q402 623.8 421.4 623.8 Q440.8 623.8 440.8 634 V666 Z" fill="#e0101c"/>
 <path d="M404 630 Q406 626 412 625 V664 H404 Z" fill="#ff4a52" opacity="0.55"/>
 <rect x="414" y="626" width="3" height="38" fill="#ff5a60" opacity="0.35"/>
 <rect x="424" y="626" width="3" height="38" fill="#b00a14" opacity="0.3"/>
 <rect x="432" y="628" width="4" height="36" fill="#ff5058" opacity="0.3"/>
 <path d="M404 632 Q421 627 438.8 632" fill="none" stroke="#ff7a80" stroke-width="1" opacity="0.6"/>
 <rect x="402" y="656" width="38.8" height="10" fill="#f0202a"/>
 <rect x="402" y="656" width="38.8" height="1.2" fill="#ff6a70" opacity="0.6"/>
 <path d="M401.4 666 H441 V688 Q441 692 437 692 H405.4 Q401.4 692 401.4 688 Z" fill="#f4f0ee"/>
 <rect x="401.4" y="666" width="39.6" height="2" fill="#d8d0cc"/>
 <rect x="407" y="671" width="28" height="12" fill="#f6dcd4" stroke="#e08a7a" stroke-width="0.8"/>
 <rect x="410" y="674" width="20" height="1.2" fill="#d06050"/>
 <rect x="410" y="677" width="14" height="1" fill="#e0a090"/>
 <g fill="#888"><rect x="411" y="691" width="1.3" height="7"/><rect x="430" y="691" width="1.3" height="7"/></g>
 <path d="M417 690 Q423 698 430 691" fill="none" stroke="#c02020" stroke-width="0.8"/>
</g>
<g id="valve">
 <path d="M512.5 629 Q500 633 491.4 647" fill="none" stroke="#222" stroke-width="1.4"/>
 <rect x="510" y="627" width="9" height="6" fill="#333"/>
 <rect x="518" y="623.6" width="18" height="15.4" rx="1.5" fill="#1e1e1e"/>
 <rect x="520" y="625" width="3" height="12" fill="#555" opacity="0.6"/>
 <rect x="524" y="620" width="8" height="4" fill="#aaa"/>
 <rect x="518" y="638.5" width="18" height="4" fill="#6f7378"/>
 <path d="M507 645 Q507 641.5 511 641.5 H544 Q548 641.5 548 645 V662 H507 Z" fill="#7c8187"/>
 <rect x="506" y="643" width="5" height="15" fill="#92979d"/><rect x="516" y="643" width="4" height="15" fill="#6c7177"/><rect x="534" y="643" width="4" height="15" fill="#6c7177"/><rect x="543" y="643" width="5" height="15" fill="#92979d"/>
 <rect x="500" y="662" width="58" height="27" fill="#80858b"/>
 <path d="M506 660 H549 V680 Q540 691 527 691 Q512 691 506 682 Z" fill="#8a8f95"/>
 <path d="M512 662 Q530 672 546 664 V676 Q532 688 514 680 Z" fill="#979ca2" opacity="0.6"/>
 <path d="M500 662 H506 V689 H500 Z" fill="#6e7379"/>
 <path d="M496 655 Q496 651 500 651 Q504 651 504 655 V696 Q504 700 500 700 Q496 700 496 696 Z" fill="#757a80"/>
 <path d="M500 651 Q504 651 504 655 V696 Q504 700 500 700 Z" fill="#8d9298"/>
 <path d="M551.5 653 Q551.5 649.6 558 649.6 Q564.5 649.6 564.5 653 V694 Q564.5 697.6 558 697.6 Q551.5 697.6 551.5 694 Z" fill="#858a90"/>
 <rect x="551.5" y="652" width="3.5" height="43" fill="#6a6f75"/>
 <path d="M521 666 H527 L529 664.5 L527 668 H521 Z" fill="#d02020"/>
</g>
<g id="sprinkler">
 <path d="M637 620 H649 V624 H637 Z" fill="#8d9094"/>
 <path d="M620.6 628.5 Q624 623 643 621.5 Q662 623 666 628.5 Q662 631 643 631 Q624 631 620.6 628.5 Z" fill="#c3c6ca"/>
 <path d="M624 627 Q632 624 643 623.5 Q654 624 662 627 Q652 628.5 643 628.5 Q634 628.5 624 627 Z" fill="#eceef0"/>
 <g fill="#a9acb0"><path d="M622.0 629 L623.8 633.5 L625.6 629 Z"/><path d="M625.6 629 L627.4 633.5 L629.2 629 Z"/><path d="M629.2 629 L631.0 633.5 L632.8 629 Z"/><path d="M632.8 629 L634.6 633.5 L636.4 629 Z"/><path d="M636.4 629 L638.2 633.5 L640.0 629 Z"/><path d="M640.0 629 L641.8 633.5 L643.6 629 Z"/><path d="M643.6 629 L645.4 633.5 L647.2 629 Z"/><path d="M647.2 629 L649.0 633.5 L650.8 629 Z"/><path d="M650.8 629 L652.6 633.5 L654.4 629 Z"/><path d="M654.4 629 L656.2 633.5 L658.0 629 Z"/><path d="M658.0 629 L659.8 633.5 L661.6 629 Z"/><path d="M661.6 629 L663.4 633.5 L665.2 629 Z"/><path d="M665.2 629 L667.0 633.5 L668.8 629 Z"/></g>
 <path d="M627 633 Q623 652 626.5 670 H632 Q629 652 632 636 Z" fill="url(#metalH)"/>
 <path d="M659 633 Q663 652 659.5 670 H654 Q657 652 654 636 Z" fill="url(#metalH)"/>
 <path d="M627 633 Q624 652 627 670" fill="none" stroke="#6f7276" stroke-width="0.8"/>
 <path d="M659 633 Q662 652 659 670" fill="none" stroke="#6f7276" stroke-width="0.8"/>
 <rect x="639.5" y="633" width="7" height="5" fill="#7a5a40"/>
 <rect x="640" y="637.5" width="6" height="7" fill="#f2f2f2"/>
 <path d="M640 644.7 H647.5 V660 Q643.7 665 640 660 Z" fill="#d81c1c"/>
 <rect x="641.2" y="646.5" width="1.8" height="12" fill="#ff7070" opacity="0.6"/>
 <path d="M631 662 Q643 657 655 662 V665 H631 Z" fill="#b9bcc0"/>
 <path d="M625.5 665 H660.5 V672 H625.5 Z" fill="url(#metalH)"/>
 <rect x="625.5" y="665" width="35" height="1" fill="#77797d"/>
 <rect x="629.6" y="672" width="26.8" height="18.8" fill="url(#metalH)"/>
 <g fill="#6f7175"><rect x="629.6" y="672" width="26.8" height="1.3"/><rect x="629.6" y="675.5" width="26.8" height="1.3"/><rect x="629.6" y="679" width="26.8" height="1.3"/><rect x="629.6" y="682.5" width="26.8" height="1.3"/><rect x="629.6" y="686" width="26.8" height="1.3"/><rect x="629.6" y="689.5" width="26.8" height="1.3"/></g>
</g>

</svg>
<div class="t" style="left:397px;top:128px;font-size:17.5px;">N个探测器</div>
<div class="t v" style="left:369px;top:255px;font-size:19px;line-height:19px;letter-spacing:1.2px;">两芯电缆线</div>
<div class="t" style="left:650px;top:304px;">气体探测器</div>
<div class="t" style="left:78px;top:531px;">电源220V</div>
<div class="t v" style="left:196px;top:478px;">有线或无线与电脑连接管理</div>
<div class="t v" style="left:219px;top:616px;">︵</div><div class="t v" style="left:219px;top:638px;">选配</div><div class="t v" style="left:219px;top:676px;">︶</div>
<div class="t" style="left:308px;top:555px;color:#bd161c;font-size:17px;letter-spacing:0.65px;">气体超标后可自动启用外接设备（选配）</div>
<div class="t v" style="left:351px;top:631px;">排风扇</div>
<div class="t v" style="left:446px;top:626px;">声光报警灯</div>
<div class="t v" style="left:570px;top:628px;">电磁阀门</div>
<div class="t v" style="left:669px;top:624px;">消防喷淋</div>
</body>
</html>
